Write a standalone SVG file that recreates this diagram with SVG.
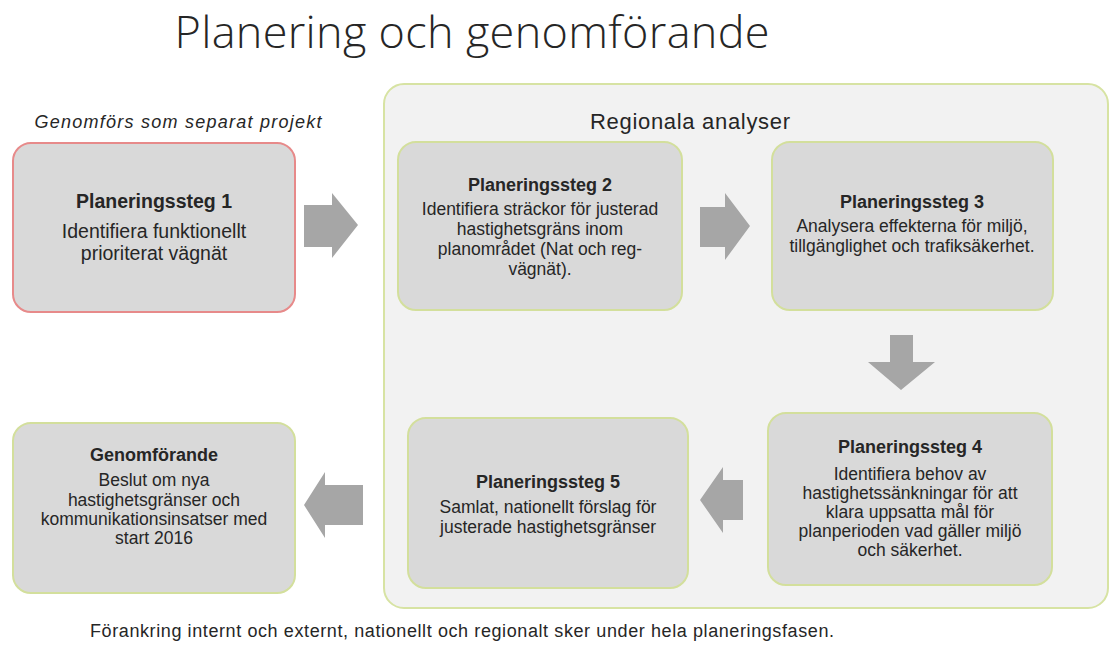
<svg xmlns="http://www.w3.org/2000/svg" width="1112" height="645" viewBox="0 0 1112 645">
<style>
.box{fill:#d9d9d9;stroke:#d3df9c;stroke-width:2}
.red{stroke:#e78a8a}
.arrow{fill:#a6a6a6}
.t{font-family:"Liberation Sans",Arial,sans-serif;fill:#262626;text-anchor:middle}
.h{font-weight:bold;font-size:18px}
.b{font-size:17.5px}
.b1{font-size:19.5px}
</style>
<rect width="1112" height="645" fill="#ffffff"/>
<text x="472" y="48" font-family="Open Sans, Liberation Sans, sans-serif" font-size="45" font-weight="300" fill="#262626" text-anchor="middle" textLength="595">Planering och genomförande</text>
<g id="region">
<rect x="384" y="84" width="724" height="524" rx="20" fill="#f2f2f2" stroke="#d7e3a3" stroke-width="2"/>
<text x="690" y="129" class="t" font-size="22" textLength="200" fill="#262626">Regionala analyser</text>
</g>
<text x="178" y="128" class="t" font-size="18" font-style="italic" textLength="287" fill="#404040">Genomförs som separat projekt</text>
<g id="step1">
<rect x="13" y="143" width="282" height="169" rx="18" class="box red"/>
<text x="154" y="208" class="t" font-size="19.5" font-weight="bold">Planeringssteg 1</text>
<text x="154" y="238" class="t b1">Identifiera funktionellt</text>
<text x="154" y="260" class="t b1">prioriterat vägnät</text>
</g>
<g id="step2">
<rect x="398" y="142" width="284" height="168" rx="18" class="box"/>
<text x="540" y="191" class="t h">Planeringssteg 2</text>
<text x="540" y="215" class="t b">Identifiera sträckor för justerad</text>
<text x="540" y="235" class="t b">hastighetsgräns inom</text>
<text x="540" y="255" class="t b">planområdet (Nat och reg-</text>
<text x="540" y="275" class="t b">vägnät).</text>
</g>
<g id="step3">
<rect x="772" y="142" width="281" height="168" rx="18" class="box"/>
<text x="912" y="208" class="t h">Planeringssteg 3</text>
<text x="912" y="232" class="t b">Analysera effekterna för miljö,</text>
<text x="912" y="252" class="t b">tillgänglighet och trafiksäkerhet.</text>
</g>
<g id="step4">
<rect x="768" y="413" width="284" height="172" rx="18" class="box"/>
<text x="910" y="453" class="t h">Planeringssteg 4</text>
<text x="910" y="480" class="t b">Identifiera behov av</text>
<text x="910" y="499" class="t b">hastighetssänkningar  för att</text>
<text x="910" y="518" class="t b">klara  uppsatta mål  för</text>
<text x="910" y="537" class="t b">planperioden vad gäller  miljö</text>
<text x="910" y="556" class="t b">och säkerhet.</text>
</g>
<g id="step5">
<rect x="408" y="418" width="280" height="170" rx="18" class="box"/>
<text x="548" y="488" class="t h">Planeringssteg 5</text>
<text x="548" y="513" class="t b">Samlat, nationellt  förslag för</text>
<text x="548" y="533" class="t b">justerade hastighetsgränser</text>
</g>
<g id="genomforande">
<rect x="13" y="423" width="282" height="170" rx="18" class="box"/>
<text x="154" y="461" class="t h">Genomförande</text>
<text x="154" y="486" class="t b">Beslut om nya</text>
<text x="154" y="506" class="t b">hastighetsgränser och</text>
<text x="154" y="525" class="t b">kommunikationsinsatser med</text>
<text x="154" y="544" class="t b">start 2016</text>
</g>
<g id="connectors">
<polygon class="arrow" points="304,205 332,205 332,193 358,225 332,258 332,247 304,247"/>
<polygon class="arrow" points="700,207 725,207 725,193 750,226 725,260 725,247 700,247"/>
<polygon class="arrow" points="890,335 913,335 913,362 935,362 901,390 868,362 890,362"/>
<polygon class="arrow" points="743,480 723,480 723,467 700,500 723,533 723,520 743,520"/>
<polygon class="arrow" points="363,485 325,485 325,472 304,505 325,538 325,525 363,525"/>
</g>
<text x="462" y="637" class="t" font-size="18" textLength="744" fill="#262626">Förankring internt och externt, nationellt och regionalt sker under hela planeringsfasen.</text>
</svg>
